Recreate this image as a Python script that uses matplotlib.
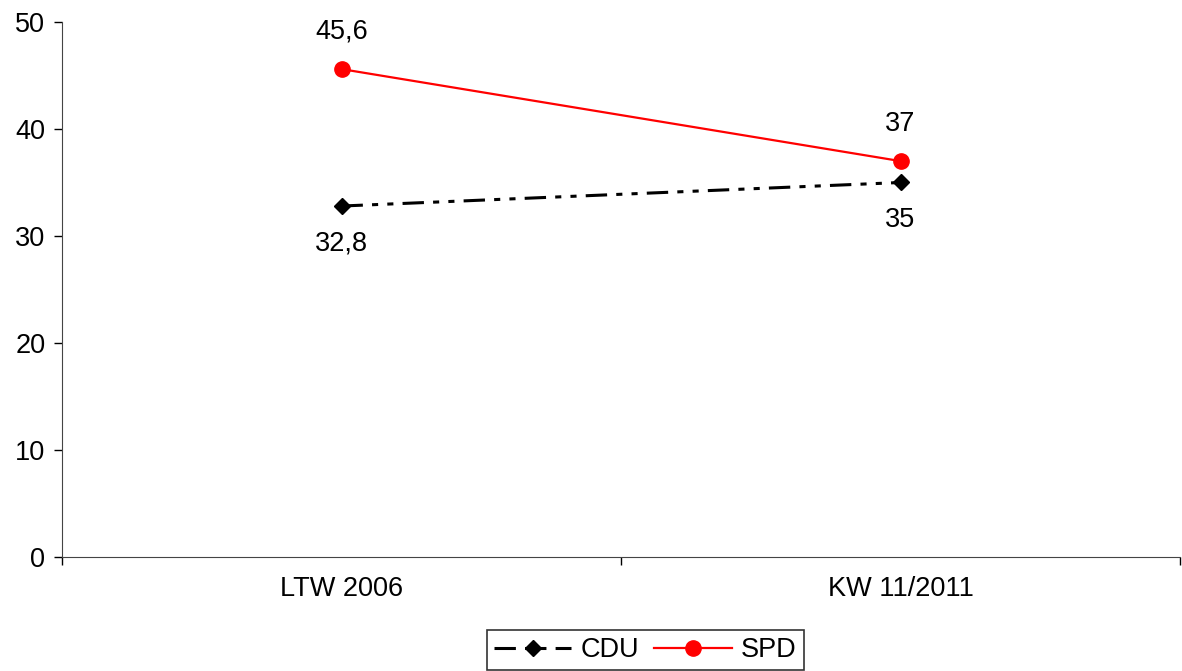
import matplotlib
matplotlib.use("Agg")
import matplotlib.pyplot as plt

categories = ["LTW 2006", "KW 11/2011"]
cdu = [32.8, 35]
spd = [45.6, 37]
cdu_labels = ["32,8", "35"]
spd_labels = ["45,6", "37"]
yticks = [0, 10, 20, 30, 40, 50]

plt.rcParams['font.family'] = ['Liberation Sans', 'DejaVu Sans']
FS = 19.5

fig = plt.figure(figsize=(11.82, 6.71), dpi=100)
ax = fig.add_axes([62/1182, 114/671, (1180-62)/1182, (557-22)/671])

x = list(range(len(categories)))
ax.plot(x, cdu, color='black', lw=2.2, linestyle=(0, (7, 3, 2, 3, 2, 3)),
        marker='D', markersize=8, label='CDU')
ax.plot(x, spd, color='#ff0000', lw=1.6, marker='o', markersize=11, label='SPD')

for xi, v, t in zip(x, cdu, cdu_labels):
    ax.annotate(t, (xi, v), xytext=(0, -27), textcoords='offset points',
                ha='center', va='center', fontsize=FS)
for xi, v, t in zip(x, spd, spd_labels):
    ax.annotate(t, (xi, v), xytext=(0, 27), textcoords='offset points',
                ha='center', va='center', fontsize=FS)

ax.set_xlim(-0.5, 1.5)
ax.set_ylim(0, 50)
ax.set_yticks(yticks)
ax.set_yticklabels([str(v) for v in yticks], fontsize=FS)
ax.set_xticks([-0.5, 0.5, 1.5])
ax.set_xticklabels([])
ax.set_xticks(x, minor=True)
ax.set_xticklabels(categories, minor=True, fontsize=FS)
ax.tick_params(axis='x', which='minor', length=0, pad=14)
ax.tick_params(axis='x', which='major', length=6, width=1)
ax.tick_params(axis='y', length=6, width=1, pad=6)
for s in ['top', 'right']:
    ax.spines[s].set_visible(False)
for s in ['left', 'bottom']:
    ax.spines[s].set_color('#444444')

leg = fig.legend(loc='center', bbox_to_anchor=(645.5/1182, 1 - 650/671), ncol=2,
                 fontsize=FS, frameon=True, fancybox=False, edgecolor='black',
                 handlelength=2.85, columnspacing=0.55, handletextpad=0.35,
                 borderpad=0.25, borderaxespad=0.0)
leg.get_frame().set_linewidth(1.2)

fig.savefig("out.png", dpi=100)
